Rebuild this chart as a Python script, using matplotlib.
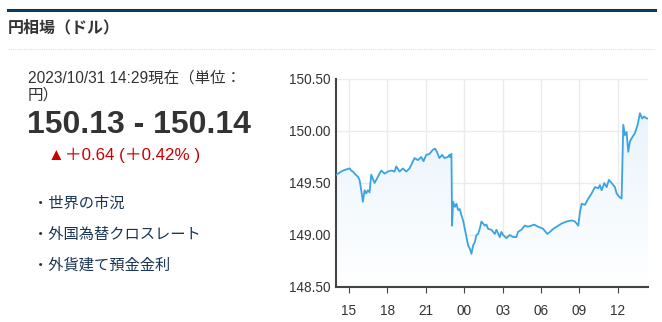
import numpy as np
import matplotlib.pyplot as plt
from matplotlib.colors import LinearSegmentedColormap
from matplotlib.patches import Polygon

# hours relative to midnight of 10/31 (negative = 10/30)
hours = [-9.98, -9.72, -9.45, -9.20, -8.94, -8.81, -8.68, -8.47, -8.29, -8.16, -8.03, -7.90,
         -7.77, -7.64, -7.51, -7.38, -7.25, -7.12, -6.99, -6.86, -6.60, -6.47, -6.21, -5.95,
         -5.69, -5.43, -5.30, -5.04, -4.78, -4.52, -4.26, -3.87, -3.61, -3.35, -3.17, -2.96,
         -2.70, -2.44, -2.26, -2.13, -1.93, -1.71, -1.54, -1.27, -1.15, -1.11, -0.99,
         -0.94, -0.86, -0.72, -0.60, -0.47, -0.34, -0.21, -0.08, 0.05, 0.18, 0.31, 0.44,
         0.57, 0.70, 0.83, 0.96, 1.09, 1.22, 1.35, 1.48, 1.61, 1.74, 1.87, 2.13, 2.39,
         2.52, 2.78, 2.91, 3.04, 3.30, 3.56, 3.82, 4.08, 4.21, 4.47, 4.73, 4.99, 5.25,
         5.46, 5.77, 6.16, 6.49, 6.70, 6.96, 7.35, 7.61, 8.00, 8.39, 8.65, 8.91, 9.04,
         9.17, 9.43, 9.69, 9.95, 10.21, 10.47, 10.60, 10.73, 10.94, 11.12, 11.30, 11.51,
         11.77, 11.90, 12.08, 12.29, 12.42, 12.55, 12.68, 12.81, 12.94, 13.12, 13.33,
         13.54, 13.72, 13.90, 14.05, 14.24, 14.34]
rates = [149.58, 149.60, 149.62, 149.63, 149.64, 149.62, 149.61, 149.58, 149.56, 149.53, 149.43, 149.32,
         149.43, 149.40, 149.43, 149.41, 149.58, 149.54, 149.50, 149.53, 149.59, 149.62, 149.59, 149.61,
         149.62, 149.61, 149.66, 149.61, 149.64, 149.61, 149.64, 149.74, 149.72, 149.75, 149.71, 149.77,
         149.78, 149.82, 149.83, 149.80, 149.74, 149.77, 149.74, 149.75, 149.77, 149.75, 149.78,
         149.09, 149.32, 149.27, 149.30, 149.24, 149.25, 149.19, 149.14, 149.06, 148.98, 148.90, 148.87,
         148.82, 148.90, 148.93, 149.00, 149.01, 149.06, 149.13, 149.11, 149.09, 149.10, 149.06, 149.05, 149.01,
         149.05, 148.98, 149.03, 149.00, 148.97, 149.00, 148.98, 148.98, 149.03, 149.05, 149.09, 149.08, 149.09,
         149.10, 149.08, 149.06, 149.01, 149.03, 149.06, 149.09, 149.11, 149.13, 149.14, 149.13, 149.09, 149.22,
         149.30, 149.29, 149.35, 149.40, 149.46, 149.45, 149.48, 149.43, 149.50, 149.46, 149.53, 149.50,
         149.46, 149.40, 149.37, 149.35, 150.06, 149.96, 149.99, 149.80, 149.90, 149.94, 149.98,
         150.06, 150.17, 150.12, 150.14, 150.12, 150.12]

xticks = [-9, -6, -3, 0, 3, 6, 9, 12]
xlabels = ['15', '18', '21', '00', '03', '06', '09', '12']
yticks = [148.5, 149.0, 149.5, 150.0, 150.5]

title = '円相場（ドル）'
stamp = '2023/10/31 14:29現在（単位：'
stamp2 = '円）'
quote = '150.13 - 150.14'
change = '▲＋0.64 (＋0.42% )'
links = ['・世界の市況', '・外国為替クロスレート', '・外貨建て預金金利']

plt.rcParams['font.family'] = ['Liberation Sans', 'Noto Sans CJK JP', 'DejaVu Sans']

W, H = 662, 322
fig = plt.figure(figsize=(W / 100, H / 100), dpi=100)

def fx(px):
    return px / W

def fy(py):
    return 1 - py / H

# header
fig.add_artist(plt.Line2D([fx(8), fx(655)], [fy(10), fy(10)], color='#0d3b5e', lw=2.2))
fig.text(fx(8), fy(27), title, fontsize=11.5, fontweight='bold', color='#333333', va='center',
         family=['Noto Sans CJK JP'])
fig.add_artist(plt.Line2D([fx(8), fx(655)], [fy(49), fy(49)], color='#dddddd', lw=0.8, ls=(0, (1, 1))))

# left panel
fig.text(fx(28), fy(78), stamp, fontsize=11.2, color='#333333', va='center')
fig.text(fx(28), fy(95), stamp2, fontsize=11.2, color='#333333', va='center', family=['Noto Sans CJK JP'])
fig.text(fx(27), fy(125), quote, fontsize=23, fontweight='bold', color='#333333', va='center')
fig.text(fx(48), fy(155), change, fontsize=12.2, color='#cc0000', va='center')
for i, s in enumerate(links):
    fig.text(fx(33), fy(203 + i * 31), s, fontsize=11, color='#1a3654', va='center',
             family=['Noto Sans CJK JP'])

# chart
ax = fig.add_axes([fx(336), fy(287), fx(648) - fx(336), fy(79) - fy(287)])
ax.set_xlim(-10, 14.35)
ax.set_ylim(148.5, 150.5)

x = np.array(hours)
y = np.array(rates)
grad = np.linspace(0, 1, 256).reshape(-1, 1)
im = ax.imshow(grad, extent=[-10, 14.35, 148.5, 150.2], origin='lower', aspect='auto',
               cmap=LinearSegmentedColormap.from_list('g', ['#ffffff', '#e9f4fc']), zorder=1)
poly = Polygon(np.column_stack([np.r_[x[0], x, x[-1]], np.r_[148.5, y, 148.5]]), closed=True,
               facecolor='none', edgecolor='none')
ax.add_patch(poly)
im.set_clip_path(poly)
ax.plot(x, y, color='#3aa3e3', lw=1.3, zorder=3)

ax.set_xticks(xticks)
ax.set_xticklabels(xlabels)
ax.set_yticks(yticks)
ax.set_yticklabels([f'{v:.2f}' for v in yticks])
ax.grid(True, color='#ebebeb', lw=1)
ax.set_axisbelow(True)
for s in ['top', 'right']:
    ax.spines[s].set_visible(False)
for s in ['left', 'bottom']:
    ax.spines[s].set_color('#444444')
    ax.spines[s].set_linewidth(1.5)
ax.tick_params(axis='x', length=4, color='#444444', labelsize=9.8, labelcolor='#333333', pad=8)
ax.tick_params(axis='y', length=0, labelsize=9.8, labelcolor='#333333', pad=4)

fig.savefig('out.png', dpi=100)
